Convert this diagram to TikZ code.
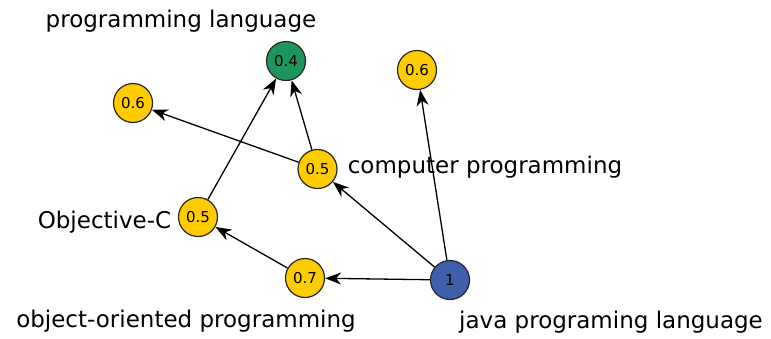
\documentclass[tikz,border=0pt]{standalone}
\usepackage{fontspec}
\setmainfont{DejaVu Sans}
\usetikzlibrary{arrows.meta}
\definecolor{cyel}{RGB}{255,204,0}
\definecolor{cgrn}{RGB}{28,150,92}
\definecolor{cblu}{RGB}{62,96,172}
\tikzset{
  vert/.style={circle, draw=black!85, line width=1.2pt, minimum size=39pt, inner sep=0pt, font=\fontsize{15}{17}\selectfont},
  lbl/.style={font=\fontsize{23}{27}\selectfont, inner sep=0pt, anchor=base},
  edge/.style={line width=1.3pt, -{Stealth[length=16pt,width=12pt,inset=5pt]}}
}
\begin{document}
\begin{tikzpicture}[x=1pt,y=-1pt]
\useasboundingbox (0,0) rectangle (771,338);
\node[vert, fill=cgrn] (pl) at (286,61) {0.4};
\node[vert, fill=cyel] (l6) at (133,103) {0.6};
\node[vert, fill=cyel] (r6) at (417,70) {0.6};
\node[vert, fill=cyel] (cp) at (317.5,169) {0.5};
\node[vert, fill=cyel] (oc) at (198,217) {0.5};
\node[vert, fill=cyel] (oo) at (305,278) {0.7};
\node[vert, fill=cblu] (jv) at (450,280) {1};
\node[lbl] (tpl) at (181,27) {programming language};
\node[lbl] (tcp) at (485,173) {computer programming};
\node[lbl] (toc) at (104.5,228) {Objective-C};
\node[lbl] (too) at (186,327) {object-oriented programming};
\node[lbl] (tjv) at (611,328) {java programing language};
\draw[edge] (jv) -- (r6);
\draw[edge] (jv) -- (cp);
\draw[edge] (jv) -- (oo);
\draw[edge] (oo) -- (oc);
\draw[edge] (oc) -- (pl);
\draw[edge] (cp) -- (pl);
\draw[edge] (cp) -- (l6);
\end{tikzpicture}
\end{document}
